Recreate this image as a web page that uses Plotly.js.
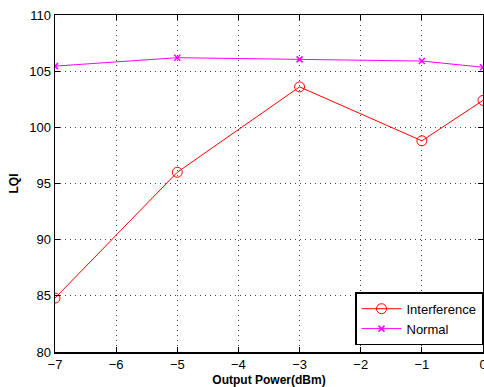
<!DOCTYPE html>
<html><head><meta charset="utf-8">
<script src="https://cdn.plot.ly/plotly-3.0.1.min.js"></script>
<style>html,body{margin:0;padding:0;background:#fff;}#c{width:484px;height:387px;}</style>
</head><body><div id="c"></div>
<script>
const outputPower = [-7, -5, -3, -1, 0];
const interferenceLQI = [84.8, 96.0, 103.6, 98.8, 102.4];
const normalLQI = [105.45, 106.2, 106.05, 105.9, 105.35];
const xTicks = [-7, -6, -5, -4, -3, -2, -1, 0];
const yTicks = [80, 85, 90, 95, 100, 105, 110];

const traces = [
  {x: outputPower, y: interferenceLQI, name: 'Interference', mode: 'lines+markers',
   line: {color: '#ff0000', width: 1}, marker: {symbol: 'circle-open', size: 10, color: '#ff0000', line: {width: 1}}},
  {x: outputPower, y: normalLQI, name: 'Normal', mode: 'lines+markers',
   line: {color: '#ff00ff', width: 1}, marker: {symbol: 'x-thin-open', size: 6, color: '#ff00ff', line: {width: 1.5, color: '#ff00ff'}}}
];
const axisCommon = {
  showline: true, linecolor: '#000', linewidth: 1.5, mirror: 'ticks',
  ticks: 'inside', ticklen: 5, tickcolor: '#000',
  showgrid: true, gridcolor: '#444', griddash: '1px,4px', gridwidth: 1,
  zeroline: false, tickfont: {family: 'Liberation Sans, Arial', size: 13, color: '#000'},
  ticklabeloverflow: 'allow'
};
const layout = {
  width: 484, height: 387,
  margin: {l: 55, r: 1, t: 15, b: 35},
  paper_bgcolor: '#fff', plot_bgcolor: '#fff',
  showlegend: true,
  xaxis: Object.assign({}, axisCommon, {range: [-7, 0], tickvals: xTicks,
    title: {text: '<b>Output Power(dBm)</b>', font: {family: 'Liberation Sans, Arial', size: 12, color: '#000'}, standoff: 4}}),
  yaxis: Object.assign({}, axisCommon, {range: [80, 110], tickvals: yTicks,
    title: {text: '<b>LQI</b>', font: {family: 'Liberation Sans, Arial', size: 12, color: '#000'}, standoff: 8}}),
  legend: {x: 1, y: 0.02, xanchor: 'right', yanchor: 'bottom', bordercolor: '#000', borderwidth: 1.5,
    bgcolor: '#fff', font: {family: 'Liberation Sans, Arial', size: 13, color: '#000'}, tracegroupgap: 0,
    itemwidth: 40},
};
Plotly.newPlot('c', traces, layout, {displayModeBar: false, staticPlot: true});
</script></body></html>
